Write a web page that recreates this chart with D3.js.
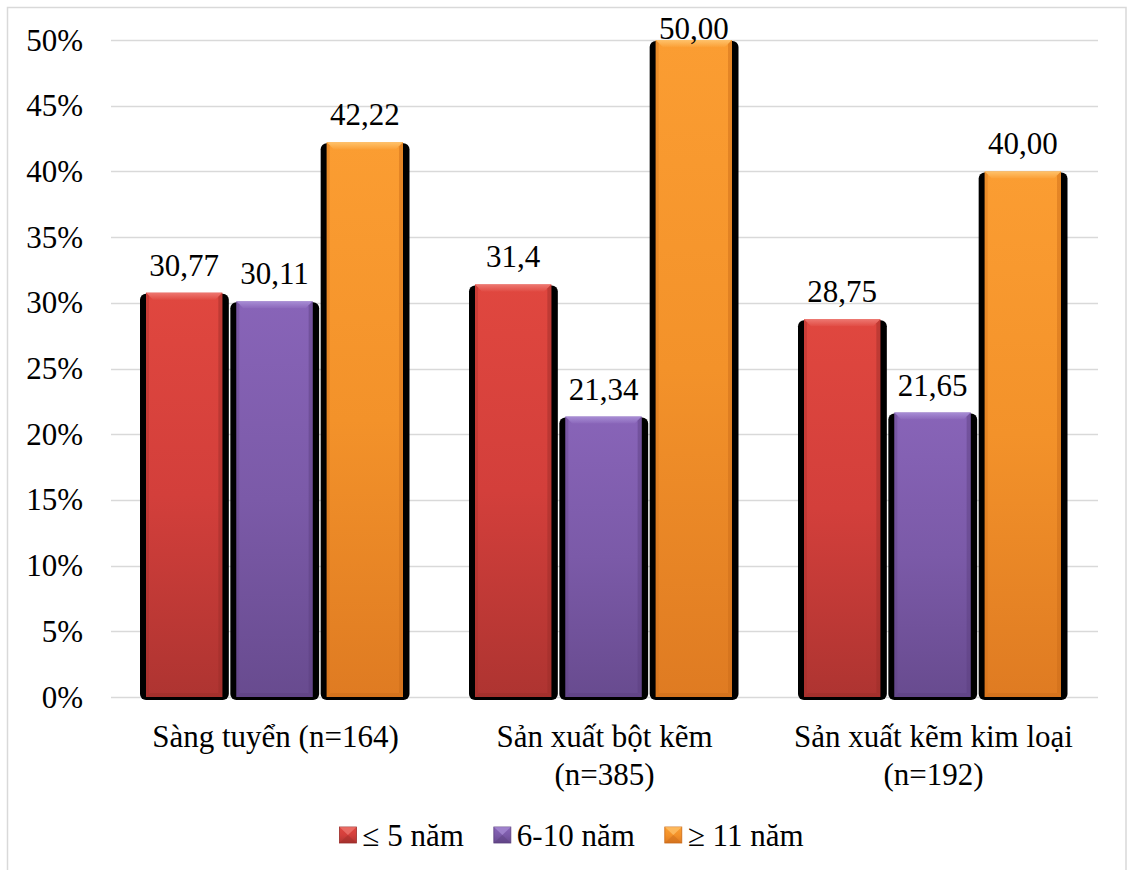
<!DOCTYPE html>
<html>
<head>
<meta charset="utf-8">
<script src="https://cdn.jsdelivr.net/npm/d3@7"></script>
<style>
  html, body { margin: 0; padding: 0; background: #ffffff; }
  svg { display: block; }
</style>
</head>
<body>
<svg id="chart" width="1127" height="870"></svg>
<script>
// Work-experience groups by production area (percent of workers)
const categories = ["Sàng tuyển (n=164)", "Sản xuất bột kẽm (n=385)", "Sản xuất kẽm kim loại (n=192)"];
const categoryLines = [["Sàng tuyển (n=164)"], ["Sản xuất bột kẽm", "(n=385)"], ["Sản xuất kẽm kim loại", "(n=192)"]];
const seriesNames = ["≤ 5 năm", "6-10 năm", "≥ 11 năm"];
const under5 = [30.77, 31.4, 28.75];
const from6to10 = [30.11, 21.34, 21.65];
const over11 = [42.22, 50.00, 40.00];
const labelDecimals = [[2, 2, 2], [1, 2, 2], [2, 2, 2]]; // [category][series]
const yTicks = [0, 5, 10, 15, 20, 25, 30, 35, 40, 45, 50];

const seriesValues = [under5, from6to10, over11];
const palette = [
  { top: "#e0473f", mid: "#d33f3b", bot: "#ae3431", hi: "#ee7a73", dk: "#9a2c29" },
  { top: "#8864b8", mid: "#7b5aa8", bot: "#684b8f", hi: "#a98fd6", dk: "#5a3f7e" },
  { top: "#fb9d32", mid: "#f3922a", bot: "#df7b22", hi: "#ffc46e", dk: "#c96a18" }
];
const FONT = "'Liberation Serif', 'DejaVu Serif', serif";
const FS = 31;

const svg = d3.select("#chart");
const plot = { left: 111, right: 1098, top: 40, bottom: 697 };
const txt = sel => sel.style("font-family", FONT).style("font-size", FS + "px").attr("fill", "#000");

// outer chart border
svg.append("rect")
  .attr("x", 7.5).attr("y", 7.5).attr("width", 1118.5).attr("height", 900)
  .attr("fill", "none").attr("stroke", "#d9d9d9").attr("stroke-width", 1.5);

const y = d3.scaleLinear().domain([0, 50]).range([plot.bottom, plot.top]);
const x0 = d3.scaleBand().domain(categories).range([plot.left, plot.right])
  .paddingInner(58 / 329).paddingOuter(29 / 329);
const x1 = d3.scaleBand().domain(seriesNames).range([0, x0.bandwidth()]).padding(0);

// gradients
const defs = svg.append("defs");
palette.forEach((c, i) => {
  const g = defs.append("linearGradient").attr("id", "grad" + i)
    .attr("x1", 0).attr("y1", 0).attr("x2", 0).attr("y2", 1);
  g.append("stop").attr("offset", "0%").attr("stop-color", c.top);
  g.append("stop").attr("offset", "50%").attr("stop-color", c.mid);
  g.append("stop").attr("offset", "100%").attr("stop-color", c.bot);
  const h = defs.append("linearGradient").attr("id", "hi" + i)
    .attr("x1", 0).attr("y1", 0).attr("x2", 0).attr("y2", 1);
  h.append("stop").attr("offset", "0%").attr("stop-color", c.hi).attr("stop-opacity", 0.95);
  h.append("stop").attr("offset", "100%").attr("stop-color", c.hi).attr("stop-opacity", 0.1);
});
defs.append("filter").attr("id", "soft")
  .append("feGaussianBlur").attr("stdDeviation", 0.6);

// gridlines
svg.append("g").selectAll("line").data(yTicks).join("line")
  .attr("x1", plot.left).attr("x2", plot.right)
  .attr("y1", d => Math.round(y(d)) + 0.5).attr("y2", d => Math.round(y(d)) + 0.5)
  .attr("stroke", "#d9d9d9").attr("stroke-width", 1.5);

// y tick labels
svg.append("g").selectAll("text").data(yTicks).join("text")
  .attr("x", 83).attr("y", d => y(d)).attr("dy", "0.34em")
  .attr("text-anchor", "end").call(txt)
  .text(d => d + "%");

// bars
const bars = [];
categories.forEach((cat, ci) => {
  seriesNames.forEach((s, si) => {
    bars.push({ cat, ci, s, si, v: seriesValues[si][ci], dec: labelDecimals[ci][si] });
  });
});

const barG = svg.append("g");
bars.forEach(b => {
  const bx = x0(b.cat) + x1(b.s);
  const bw = x1.bandwidth();
  const top = y(b.v);
  const base = y(0);
  const g = barG.append("g");
  // dark shadow behind the bar
  g.append("rect")
    .attr("x", bx).attr("y", top + 1)
    .attr("width", bw - 1.5).attr("height", base - top + 2)
    .attr("rx", 6).attr("fill", "#000").attr("filter", "url(#soft)");
  // bar body
  const fx = bx + 6, fw = bw - 14;
  g.append("rect")
    .attr("x", fx).attr("y", top).attr("width", fw).attr("height", base - top)
    .attr("fill", `url(#grad${b.si})`);
  // bevel: top highlight
  const bev = 7;
  g.append("path")
    .attr("d", `M${fx},${top} L${fx + fw},${top} L${fx + fw - bev},${top + bev} L${fx + bev},${top + bev} Z`)
    .attr("fill", `url(#hi${b.si})`);
  // bevel: darker sides and bottom
  g.append("path")
    .attr("d", `M${fx + fw},${top} L${fx + fw},${base} L${fx + fw - 4},${base - 4} L${fx + fw - 4},${top + 4} Z`)
    .attr("fill", palette[b.si].dk).attr("opacity", 0.45);
  g.append("path")
    .attr("d", `M${fx},${top} L${fx},${base} L${fx + 3},${base - 3} L${fx + 3},${top + 3} Z`)
    .attr("fill", palette[b.si].dk).attr("opacity", 0.3);
  g.append("path")
    .attr("d", `M${fx},${base} L${fx + fw},${base} L${fx + fw - 4},${base - 4} L${fx + 4},${base - 4} Z`)
    .attr("fill", palette[b.si].dk).attr("opacity", 0.45);
  // value label
  g.append("text")
    .attr("x", bx + bw / 2 - 1).attr("y", Math.max(top - 17, plot.top - 1))
    .attr("text-anchor", "middle").call(txt)
    .text(b.v.toFixed(b.dec).replace(".", ","));
});

// category labels
const catG = svg.append("g");
categories.forEach((cat, ci) => {
  const cx = x0(cat) + x0.bandwidth() / 2;
  const t = catG.append("text").attr("text-anchor", "middle").call(txt);
  categoryLines[ci].forEach((line, li) => {
    t.append("tspan").attr("x", cx).attr("y", 747 + li * 38).text(line);
  });
});

// legend
const legend = svg.append("g");
let lx = 0;
seriesNames.forEach((name, i) => {
  const it = legend.append("g");
  it.append("rect").attr("x", 0).attr("y", -8).attr("width", 17).attr("height", 16)
    .attr("fill", `url(#grad${i})`).attr("stroke", palette[i].dk).attr("stroke-width", 0.8);
  it.append("path").attr("d", "M0,-8 L17,-8 L8.5,0 Z").attr("fill", palette[i].hi).attr("opacity", 0.7);
  it.append("path").attr("d", "M0,8 L17,8 L8.5,0 Z").attr("fill", palette[i].dk).attr("opacity", 0.4);
  const tx = it.append("text").attr("x", 23).attr("y", 0).attr("dy", "0.34em")
    .call(txt).text(name);
  const w = 23 + tx.node().getComputedTextLength();
  it.attr("transform", `translate(${lx},835)`);
  lx += w + 30;
});
const totalW = lx - 30;
legend.attr("transform", `translate(${571.5 - totalW / 2},0)`);
</script>
</body>
</html>
